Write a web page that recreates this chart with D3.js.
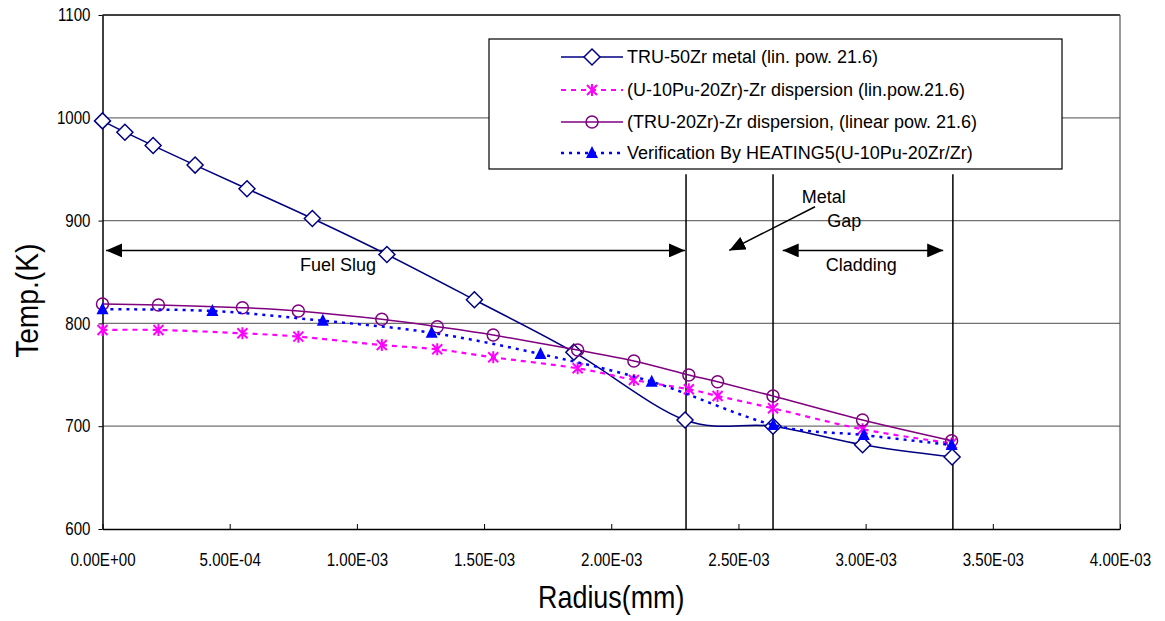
<!DOCTYPE html>
<html>
<head>
<meta charset="utf-8">
<script src="https://cdn.jsdelivr.net/npm/d3@7"></script>
<style>
  body { margin: 0; background: #fff; }
  .tick-label { font-family: "Liberation Sans", Arial, sans-serif; font-size: 18px; fill: #000; }
  .axis-title { font-family: "Liberation Sans", Arial, sans-serif; font-size: 32px; fill: #000; }
  .txt { font-family: "Liberation Sans", Arial, sans-serif; font-size: 18px; fill: #000; }
</style>
</head>
<body>
<div id="chart"></div>
<script>
// ---- data (radius in mm, temperature in K) ----
var metalRadius = [0, 0.088e-3, 0.199e-3, 0.364e-3, 0.568e-3, 0.825e-3, 1.118e-3, 1.462e-3, 1.853e-3, 2.290e-3, 2.636e-3, 2.988e-3, 3.340e-3];
var metalTemp   = [997, 986, 973, 954, 931, 902, 867, 823, 772, 706, 700, 682, 670];

var dispRadius  = [0, 0.220e-3, 0.550e-3, 0.770e-3, 1.098e-3, 1.316e-3, 1.536e-3, 1.868e-3, 2.089e-3, 2.305e-3, 2.418e-3, 2.636e-3, 2.988e-3, 3.338e-3];
var upuzrTemp   = [793.6, 793.6, 790.4, 787.1, 779, 774.8, 767, 756.3, 745, 735.9, 729.4, 717.4, 697, 683.3];
var truzrTemp   = [818.9, 817.9, 815.3, 812.1, 804, 796.8, 788.7, 774.1, 763.4, 749.8, 743.3, 729.4, 706, 685.9];

var heatRadius  = [0, 0.432e-3, 0.866e-3, 1.294e-3, 1.722e-3, 2.159e-3, 2.637e-3, 2.993e-3, 3.338e-3];
var heatTemp    = [813.7, 812.1, 802.6, 790.9, 770.2, 743.3, 701.2, 691.4, 681.7];

var seriesNames = [
  "TRU-50Zr metal (lin. pow. 21.6)",
  "(U-10Pu-20Zr)-Zr dispersion (lin.pow.21.6)",
  "(TRU-20Zr)-Zr dispersion, (linear pow. 21.6)",
  "Verification By HEATING5(U-10Pu-20Zr/Zr)"
];

var xTicks = [0, 0.5e-3, 1.0e-3, 1.5e-3, 2.0e-3, 2.5e-3, 3.0e-3, 3.5e-3, 4.0e-3];
var yTicks = [600, 700, 800, 900, 1000, 1100];

// region boundaries (fuel / gap / cladding)
var boundaryRadius = [2.294e-3, 2.636e-3, 3.343e-3];
var boundaryTop = 945;

// double-arrow spans
var spanNames = ["Fuel Slug", "Cladding"];
var spanFrom  = [0.014e-3, 2.674e-3];
var spanTo    = [2.290e-3, 3.305e-3];
var spanTemp  = 871;

// ---- chart ----
var W = 1165, H = 621;
var margin = { top: 15, right: 45, bottom: 92, left: 102.5 };
var width = W - margin.left - margin.right,
    height = H - margin.top - margin.bottom;
var narrow = 0.84; // squeeze for the condensed axis font

var svg = d3.select("#chart").append("svg")
  .attr("width", W).attr("height", H);

var defs = svg.append("defs");
defs.append("marker")
  .attr("id", "head")
  .attr("viewBox", "0 0 16 14")
  .attr("refX", 16).attr("refY", 7)
  .attr("markerWidth", 16).attr("markerHeight", 14)
  .attr("markerUnits", "userSpaceOnUse")
  .attr("orient", "auto-start-reverse")
  .append("path").attr("d", "M0,0L16,7L0,14Z").attr("fill", "#000");

var g = svg.append("g").attr("transform", "translate(" + margin.left + "," + margin.top + ")");

var x = d3.scaleLinear().domain([0, 4e-3]).range([0, width]);
var y = d3.scaleLinear().domain([600, 1100]).range([height, 0]);

function sci(v) {
  var s = v.toExponential(2).split("e");
  var e = parseInt(s[1], 10);
  var sign = e < 0 ? "-" : "+";
  var ee = Math.abs(e) < 10 ? "0" + Math.abs(e) : "" + Math.abs(e);
  return s[0] + "E" + sign + ee;
}

// gridlines
g.append("g").selectAll("line")
  .data(yTicks.filter(function(d) { return d > 600 && d < 1100; }))
  .enter().append("line")
  .attr("x1", 0).attr("x2", width)
  .attr("y1", function(d) { return y(d); }).attr("y2", function(d) { return y(d); })
  .attr("stroke", "#707070").attr("stroke-width", 1.2);

// plot border top/right
g.append("line").attr("x1", 0).attr("x2", width).attr("y1", y(1100)).attr("y2", y(1100))
  .attr("stroke", "#000").attr("stroke-width", 1.5);
g.append("line").attr("x1", width).attr("x2", width).attr("y1", y(1100)).attr("y2", y(600))
  .attr("stroke", "#555").attr("stroke-width", 1.2);

// axes
var xAxis = g.append("g").attr("transform", "translate(0," + height + ")")
  .call(d3.axisBottom(x).tickValues(xTicks).tickSizeInner(-5).tickSizeOuter(0).tickFormat(sci));
xAxis.select(".domain").attr("stroke", "#000").attr("stroke-width", 1.5);
xAxis.selectAll(".tick line").attr("stroke", "#000");
xAxis.selectAll(".tick text").attr("class", "tick-label").attr("font-family", null).attr("font-size", null)
  .attr("y", 31).attr("dy", "0.35em")
  .attr("transform", "scale(" + narrow + ",1)");

var yAxis = g.append("g")
  .call(d3.axisLeft(y).tickValues(yTicks).tickSize(4).tickSizeOuter(0).tickFormat(d3.format("d")));
yAxis.select(".domain").attr("stroke", "#000").attr("stroke-width", 1.5);
yAxis.selectAll(".tick line").attr("stroke", "#000");
yAxis.selectAll(".tick text").attr("class", "tick-label").attr("font-family", null).attr("font-size", null)
  .attr("x", -12 / narrow)
  .attr("transform", "scale(" + narrow + ",1)");

// axis titles
svg.append("g").attr("transform", "translate(" + (margin.left + x(2.0e-3)) + ",608)")
  .append("text").attr("class", "axis-title")
  .attr("text-anchor", "middle")
  .attr("transform", "scale(0.84,1)")
  .text("Radius(mm)");
svg.append("g").attr("transform", "translate(38," + (margin.top + y(822)) + ") rotate(-90)")
  .append("text").attr("class", "axis-title")
  .attr("text-anchor", "middle")
  .attr("transform", "scale(0.88,1)")
  .text("Temp.(K)");

// boundary lines
g.append("g").selectAll("line").data(boundaryRadius).enter().append("line")
  .attr("x1", function(d) { return x(d); }).attr("x2", function(d) { return x(d); })
  .attr("y1", y(boundaryTop)).attr("y2", y(600))
  .attr("stroke", "#000").attr("stroke-width", 1.5);

// span arrows
spanNames.forEach(function(name, i) {
  g.append("line")
    .attr("x1", x(spanFrom[i])).attr("x2", x(spanTo[i]))
    .attr("y1", y(spanTemp)).attr("y2", y(spanTemp))
    .attr("stroke", "#000").attr("stroke-width", 1.5)
    .attr("marker-start", "url(#head)").attr("marker-end", "url(#head)");
});
g.append("text").attr("class", "txt").attr("text-anchor", "middle")
  .attr("x", x(0.926e-3)).attr("y", y(851)).text(spanNames[0]);
g.append("text").attr("class", "txt").attr("text-anchor", "middle")
  .attr("x", x(2.983e-3)).attr("y", y(851)).text(spanNames[1]);

// metal gap label + pointer
g.append("text").attr("class", "txt").attr("text-anchor", "middle")
  .attr("x", x(2.835e-3)).attr("y", y(917)).text("Metal");
g.append("text").attr("class", "txt").attr("text-anchor", "middle")
  .attr("x", x(2.916e-3)).attr("y", y(894)).text("Gap");
g.append("line")
  .attr("x1", x(2.801e-3)).attr("y1", y(913.5))
  .attr("x2", x(2.464e-3)).attr("y2", y(871))
  .attr("stroke", "#000").attr("stroke-width", 1.5)
  .attr("marker-end", "url(#head)");

// series
var series = [
  { name: seriesNames[0], xs: metalRadius, ys: metalTemp, color: "#000080", dash: null, width: 1.5, sym: "diamond" },
  { name: seriesNames[1], xs: dispRadius, ys: upuzrTemp, color: "#ff00ff", dash: "5,5", width: 2.2, sym: "star" },
  { name: seriesNames[2], xs: dispRadius, ys: truzrTemp, color: "#800080", dash: null, width: 1.5, sym: "circle" },
  { name: seriesNames[3], xs: heatRadius, ys: heatTemp, color: "#0000ff", dash: "3,5", width: 2.5, sym: "triangle" }
];

var line = d3.line().curve(d3.curveCatmullRom.alpha(0))
  .x(function(d) { return x(d[0]); })
  .y(function(d) { return y(d[1]); });

function drawSymbol(sel, s) {
  if (s.sym === "diamond") {
    sel.append("path").attr("d", "M0,-8L8,0L0,8L-8,0Z")
      .attr("fill", "#fff").attr("stroke", s.color).attr("stroke-width", 1.5);
  } else if (s.sym === "circle") {
    sel.append("circle").attr("r", 6)
      .attr("fill", "none").attr("stroke", s.color).attr("stroke-width", 1.5);
  } else if (s.sym === "star") {
    sel.append("path").attr("d", "M-5,-5L5,5M-5,5L5,-5M0,-6L0,6")
      .attr("fill", "none").attr("stroke", s.color).attr("stroke-width", 2);
  } else if (s.sym === "triangle") {
    sel.append("path").attr("d", "M0,-7L6,5L-6,5Z").attr("fill", s.color);
  }
}

series.forEach(function(s) {
  var pts = s.xs.map(function(v, i) { return [v, s.ys[i]]; });
  var sg = g.append("g");
  sg.append("path").datum(pts)
    .attr("d", line)
    .attr("fill", "none")
    .attr("stroke", s.color)
    .attr("stroke-width", s.width)
    .attr("stroke-dasharray", s.dash);
  sg.selectAll("g.pt").data(pts).enter().append("g")
    .attr("class", "pt")
    .attr("transform", function(d) { return "translate(" + x(d[0]) + "," + y(d[1]) + ")"; })
    .each(function() { drawSymbol(d3.select(this), s); });
});

// legend
var legend = svg.append("g");
legend.append("rect")
  .attr("x", 489).attr("y", 39).attr("width", 573).attr("height", 130)
  .attr("fill", "#fff").attr("stroke", "#000").attr("stroke-width", 1.2);
var rowY = [57, 90, 122, 153];
series.forEach(function(s, i) {
  var row = legend.append("g").attr("transform", "translate(0," + rowY[i] + ")");
  row.append("line").attr("x1", 561).attr("x2", 623).attr("y1", 0).attr("y2", 0)
    .attr("stroke", s.color).attr("stroke-width", s.width).attr("stroke-dasharray", s.dash);
  drawSymbol(row.append("g").attr("transform", "translate(592,0)"), s);
  row.append("text").attr("class", "txt").attr("x", 627).attr("dy", "0.35em").text(s.name);
});
</script>
</body>
</html>
